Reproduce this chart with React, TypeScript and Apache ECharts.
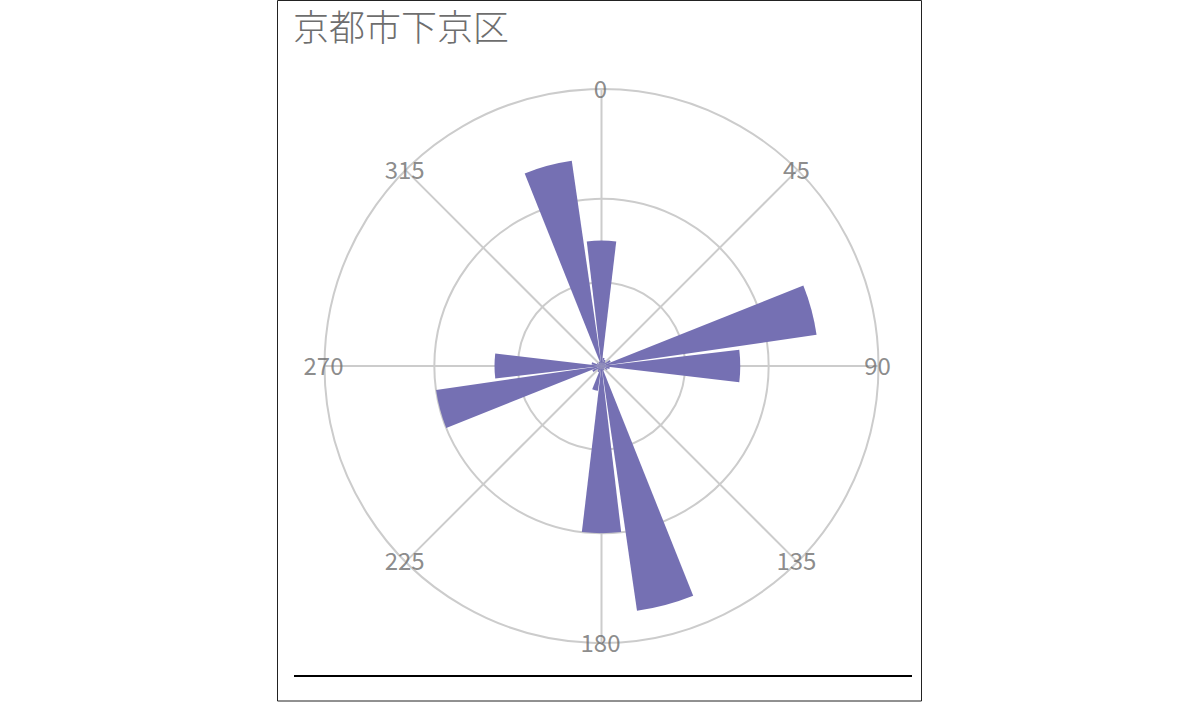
import React, { useEffect, useRef } from "react";
import * as echarts from "echarts";

const titleText = "京都市下京区";
const directions = [
  "0", "15", "30", "45", "60", "75", "90", "105", "120", "135", "150", "165",
  "180", "195", "210", "225", "240", "255", "270", "285", "300", "315", "330", "345",
];
const values = [
  7.5, 0.5, 0.4, 0.3, 0.6, 13.0, 8.3, 0.5, 0.4, 0.2, 0.3, 14.8,
  10.0, 1.5, 0.4, 0.3, 0.6, 10.0, 6.4, 0.6, 0.3, 0.2, 0.3, 12.4,
];
const angleTicks = [0, 45, 90, 135, 180, 225, 270, 315];
const angleTickLabels = ["0", "45", "90", "135", "180", "225", "270", "315"];
const radiusMax = 16.57;
const radiusInterval = 5;

export default function App() {
  const ref = useRef<HTMLDivElement>(null);
  useEffect(() => {
    if (!ref.current) return;
    const chart = echarts.init(ref.current, undefined, { renderer: "svg" });
    const center = [601.5, 366];
    const radius = 277;
    const grid = "#cccccc";
    const textColor = "#6e6e6e";
    const font = "'Noto Sans CJK JP', 'Noto Sans', sans-serif";
    chart.setOption({
      animation: false,
      backgroundColor: "#ffffff",
      title: {
        text: titleText,
        left: 288,
        top: 2,
        textStyle: { fontSize: 36, lineHeight: 36, fontWeight: 300, color: textColor, fontFamily: font },
      },
      polar: [
        { center, radius },
        { center, radius },
      ],
      angleAxis: [
        {
          polarIndex: 0,
          type: "value",
          min: 0,
          max: 360,
          interval: 45,
          startAngle: 90,
          clockwise: true,
          axisLine: { show: true, lineStyle: { color: grid, width: 2 } },
          axisTick: { show: false },
          axisLabel: { show: false },
          splitLine: { show: true, lineStyle: { color: grid, width: 2 } },
        },
        {
          polarIndex: 1,
          type: "category",
          data: directions,
          startAngle: 97.5,
          clockwise: true,
          axisLine: { show: false },
          axisTick: { show: false },
          axisLabel: { show: false },
          splitLine: { show: false },
        },
      ],
      radiusAxis: [
        {
          polarIndex: 0,
          type: "value",
          min: 0,
          max: radiusMax,
          interval: radiusInterval,
          axisLine: { show: false },
          axisTick: { show: false },
          axisLabel: { show: false },
          splitLine: {
            show: true,
            lineStyle: {
              color: ["rgba(0,0,0,0)", grid, grid, "rgba(0,0,0,0)", "rgba(0,0,0,0)"],
              width: 2,
            },
          },
        },
        {
          polarIndex: 1,
          type: "value",
          min: 0,
          max: radiusMax,
          axisLine: { show: false },
          axisTick: { show: false },
          axisLabel: { show: false },
          splitLine: { show: false },
        },
      ],
      series: [
        {
          type: "bar",
          coordinateSystem: "polar",
          polarIndex: 1,
          data: values,
          barWidth: "90%",
          itemStyle: { color: "#7570b3" },
          z: 3,
        },
        {
          type: "scatter",
          coordinateSystem: "polar",
          polarIndex: 0,
          symbolSize: 0,
          data: angleTicks.map((a, i) => ({ value: [radiusMax, a], name: angleTickLabels[i] })),
          label: {
            show: true,
            position: "inside",
            offset: [-1, -2],
            formatter: (p: any) => p.name,
            fontSize: 24,
            fontWeight: "normal",
            color: textColor,
            fontFamily: font,
          },
          z: 4,
        },
      ],
      graphic: [
        {
          type: "rect",
          shape: { x: 277.5, y: 0.5, width: 644, height: 700.5 },
          style: { fill: "none", stroke: "#222", lineWidth: 1 },
          silent: true,
        },
        {
          type: "line",
          shape: { x1: 294, y1: 676, x2: 912, y2: 676 },
          style: { stroke: "#000", lineWidth: 2 },
          silent: true,
        },
      ],
    });
    return () => chart.dispose();
  }, []);
  return (
    <div
      ref={ref}
      style={{ position: "absolute", left: 0, top: 0, width: 1200, height: 702 }}
    />
  );
}
